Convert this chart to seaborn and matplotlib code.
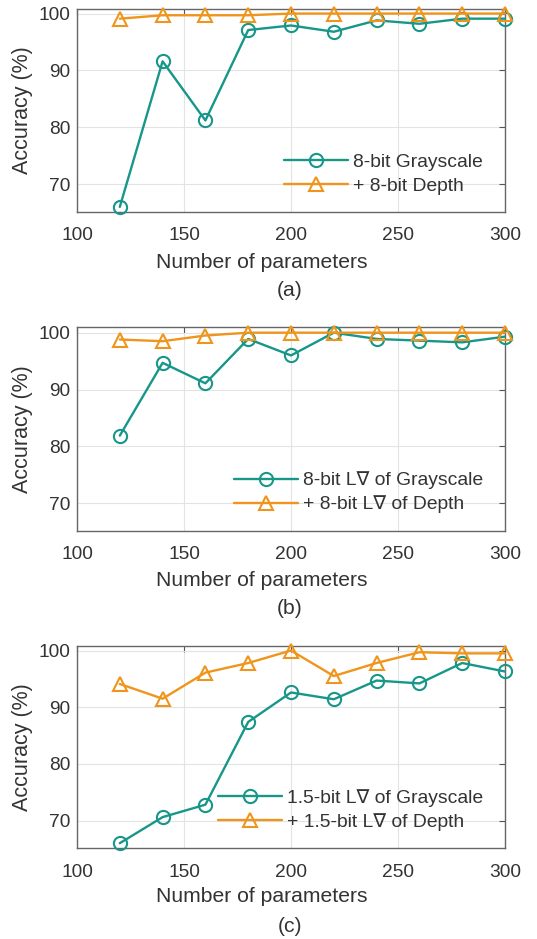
import matplotlib
matplotlib.use("Agg")
import matplotlib.pyplot as plt
import seaborn as sns
import pandas as pd

params = [120, 140, 160, 180, 200, 220, 240, 260, 280, 300]

gray_a = [66.0, 91.6, 81.2, 97.1, 97.9, 96.8, 98.8, 98.2, 99.1, 99.1]
depth_a = [99.1, 99.7, 99.7, 99.7, 100.0, 100.0, 100.0, 100.0, 100.0, 100.0]

gray_b = [81.9, 94.7, 91.1, 98.9, 96.0, 100.0, 98.9, 98.6, 98.3, 99.3]
depth_b = [98.8, 98.5, 99.5, 100.0, 100.0, 100.0, 100.0, 100.0, 100.0, 100.0]

gray_c = [66.0, 70.6, 72.8, 87.4, 92.6, 91.4, 94.7, 94.2, 97.8, 96.3]
depth_c = [94.1, 91.5, 96.1, 97.8, 100.0, 95.5, 97.8, 99.7, 99.5, 99.5]

labels_a = ["8-bit Grayscale", "+ 8-bit Depth"]
labels_b = ["8-bit L\u2207 of Grayscale", "+ 8-bit L\u2207 of Depth"]
labels_c = ["1.5-bit L\u2207 of Grayscale", "+ 1.5-bit L\u2207 of Depth"]
panel_tags = ["(a)", "(b)", "(c)"]

xticks = [100, 150, 200, 250, 300]
yticks = [70, 80, 90, 100]

sns.set_theme(style="white")
plt.rcParams['font.family'] = ['Liberation Sans', 'DejaVu Sans']
TXT = '#333333'
plt.rcParams['text.color'] = TXT
plt.rcParams['axes.labelcolor'] = TXT
plt.rcParams['xtick.color'] = TXT
plt.rcParams['ytick.color'] = TXT

TEAL = '#17968a'
ORANGE = '#f0951c'
FS_LAB = 15.2
FS_TICK = 13.8
FS_LEG = 13.9

W, H = 537, 939
fig = plt.figure(figsize=(W / 100, H / 100), dpi=100)

boxes = [(9, 212), (326.7, 530.7), (646, 848.3)]
left_px, right_px = 77, 505
ylims = [(65.1, 100.8), (65.2, 101.05), (65.1, 100.8)]
series = [(gray_a, depth_a, labels_a), (gray_b, depth_b, labels_b), (gray_c, depth_c, labels_c)]
xlabel_y = [262, 581, 897]
tag_y = [290, 608, 926]

for i, ((top, bot), (g, d, labs)) in enumerate(zip(boxes, series)):
    ax = fig.add_axes([left_px / W, 1 - bot / H, (right_px - left_px) / W, (bot - top) / H])
    df = pd.DataFrame({"x": params, "g": g, "d": d})
    sns.lineplot(data=df, x="x", y="g", ax=ax, color=TEAL, linewidth=1.7,
                 marker='o', markersize=9.5, markerfacecolor='none',
                 markeredgecolor=TEAL, markeredgewidth=1.5, label=labs[0],
                 zorder=3, clip_on=False)
    sns.lineplot(data=df, x="x", y="d", ax=ax, color=ORANGE, linewidth=1.7,
                 marker='^', markersize=10, markerfacecolor='none',
                 markeredgecolor=ORANGE, markeredgewidth=1.5, label=labs[1],
                 zorder=3, clip_on=False)
    ax.set_xlim(100, 300)
    ax.set_ylim(*ylims[i])
    ax.set_xticks(xticks)
    ax.set_yticks(yticks)
    ax.tick_params(direction='in', top=True, right=True, length=4, width=0.8,
                   labelsize=FS_TICK, colors='#555555', labelcolor=TXT)
    ax.tick_params(axis='x', pad=11)
    ax.tick_params(axis='y', pad=5)
    ax.grid(True, color='#e3e3e3', linewidth=0.8)
    ax.set_axisbelow(True)
    for s in ax.spines.values():
        s.set_color('#666666')
        s.set_linewidth(1.0)
    ax.set_xlabel("")
    ax.set_ylabel("Accuracy (%)", fontsize=15.5, labelpad=4)
    leg = ax.legend(loc='lower right', bbox_to_anchor=(0.948, 0.085), frameon=False,
                    fontsize=FS_LEG, borderpad=0, borderaxespad=0, handlelength=3.3,
                    handletextpad=0.26, labelspacing=0.32)
    for t in leg.get_texts():
        t.set_color(TXT)
    fig.text(262 / W, 1 - xlabel_y[i] / H, "Number of parameters", fontsize=FS_LAB,
             ha='center', va='center', color=TXT)
    fig.text(290 / W, 1 - tag_y[i] / H, panel_tags[i], fontsize=FS_LAB,
             ha='center', va='center', color=TXT)

fig.savefig("out.png", dpi=100)
